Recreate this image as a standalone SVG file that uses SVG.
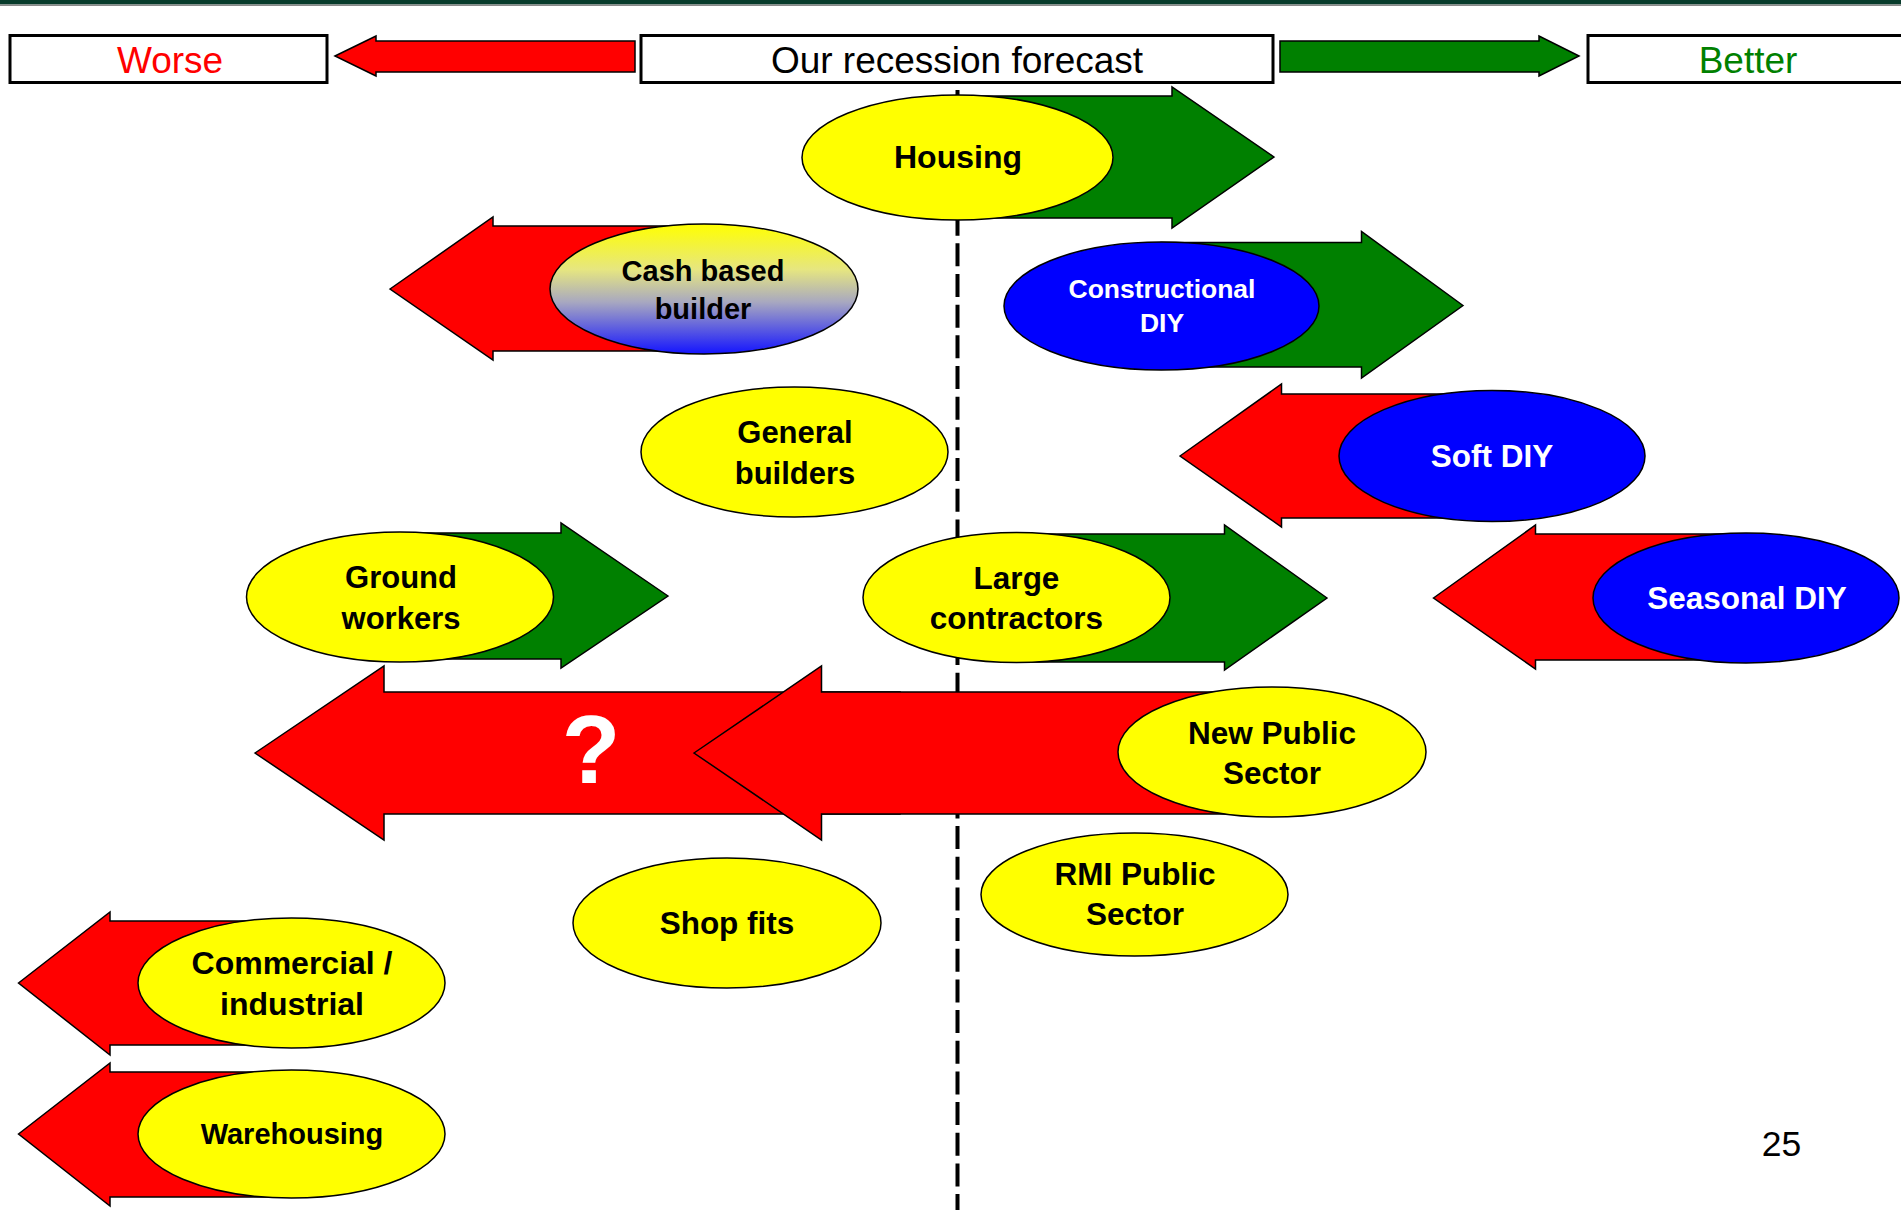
<svg xmlns="http://www.w3.org/2000/svg" width="1901" height="1210" viewBox="0 0 1901 1210">
<defs>
<linearGradient id="cashGrad" x1="0" y1="0" x2="0" y2="1">
<stop offset="0" stop-color="#ffff00"/>
<stop offset="0.35" stop-color="#e6e680"/>
<stop offset="0.6" stop-color="#a8a8c0"/>
<stop offset="1" stop-color="#1414ff"/>
</linearGradient>
</defs>
<style>
.box{fill:#ffffff;stroke:#000000;stroke-width:3}
.hdr{font-family:"Liberation Sans",Arial,sans-serif;font-size:37px;text-anchor:middle}
.red{fill:#ff0000;stroke:#000000;stroke-width:1.5;stroke-linejoin:miter}
.grn{fill:#008000;stroke:#000000;stroke-width:1.5;stroke-linejoin:miter}
.ey{fill:#ffff00;stroke:#000000;stroke-width:1.5}
.eb{fill:#0000ff;stroke:#000000;stroke-width:1.5}
.lbl{font-family:"Liberation Sans",Arial,sans-serif;font-weight:bold;font-size:31.5px;text-anchor:middle;fill:#000000}
.wht{fill:#ffffff}
</style>
<rect x="0" y="0" width="1901" height="1210" fill="#ffffff"/>
<rect x="0" y="0" width="1901" height="4.5" fill="#073b2b"/>
<rect x="0" y="4.5" width="1901" height="1.5" fill="#8a8a8a"/>

<g id="axis">
<line x1="957.5" y1="84" x2="957.5" y2="1212" stroke="#000000" stroke-width="4" stroke-dasharray="23 7.67" stroke-dashoffset="24.67"/>
</g>

<g id="connectors"></g>

<g id="header-worse">
<rect class="box" x="10" y="35.5" width="317" height="47"/>
<text class="hdr" x="170" y="73" fill="#ff0000">Worse</text>
</g>
<g id="header-worse-arrow">
<polygon class="red" points="335,56 376,36 376,41 635,41 635,72 376,72 376,76"/>
</g>
<g id="header-forecast">
<rect class="box" x="641" y="35.5" width="632" height="47"/>
<text class="hdr" x="957" y="73" fill="#000000">Our recession forecast</text>
</g>
<g id="header-better-arrow">
<polygon class="grn" points="1579,56 1539,36 1539,41 1280,41 1280,72 1539,72 1539,76"/>
</g>
<g id="header-better">
<rect class="box" x="1588" y="35.5" width="330" height="47"/>
<text class="hdr" x="1748" y="73" fill="#008000">Better</text>
</g>

<g id="node-housing">
<polygon class="grn" points="1274,157 1172,87 1172,96 957,96 957,218 1172,218 1172,228"/>
<ellipse class="ey" cx="957.5" cy="157.5" rx="155.5" ry="62.5"/>
<text class="lbl" x="958" y="168" style="font-size:32px">Housing</text>
</g>

<g id="node-cash-based-builder">
<polygon class="red" points="390,289 493,217 493,226 704,226 704,351 493,351 493,360"/>
<ellipse cx="704" cy="289" rx="154" ry="65" fill="url(#cashGrad)" stroke="#000000" stroke-width="1.5"/>
<text class="lbl" x="703" y="280.5" style="font-size:29px">Cash based</text>
<text class="lbl" x="703" y="318.5" style="font-size:29px">builder</text>
</g>

<g id="node-constructional-diy">
<polygon class="grn" points="1463,305.5 1361.5,231.5 1361.5,242.5 1161,242.5 1161,367 1361.5,367 1361.5,378"/>
<ellipse class="eb" cx="1161.5" cy="306" rx="157.5" ry="64"/>
<text class="lbl wht" x="1162" y="298" style="font-size:26.5px">Constructional</text>
<text class="lbl wht" x="1162" y="332" style="font-size:26.5px">DIY</text>
</g>

<g id="node-general-builders">
<ellipse class="ey" cx="794.5" cy="452" rx="153.5" ry="65"/>
<text class="lbl" x="795" y="443" style="font-size:31px">General</text>
<text class="lbl" x="795" y="483.5" style="font-size:31px">builders</text>
</g>

<g id="node-soft-diy">
<polygon class="red" points="1180,456 1281.5,384 1281.5,394 1492,394 1492,518 1281.5,518 1281.5,527"/>
<ellipse class="eb" cx="1492" cy="456" rx="153" ry="65.5"/>
<text class="lbl wht" x="1492" y="467">Soft DIY</text>
</g>

<g id="node-ground-workers">
<polygon class="grn" points="668,596 561,523 561,533 400,533 400,659 561,659 561,668"/>
<ellipse class="ey" cx="400" cy="597" rx="153.5" ry="65"/>
<text class="lbl" x="401" y="588" style="font-size:31px">Ground</text>
<text class="lbl" x="401" y="629" style="font-size:31px">workers</text>
</g>

<g id="node-large-contractors">
<polygon class="grn" points="1327,598 1224.5,525 1224.5,534 1016,534 1016,662 1224.5,662 1224.5,670"/>
<ellipse class="ey" cx="1016.5" cy="597.5" rx="153.5" ry="65"/>
<text class="lbl" x="1016.5" y="588.5">Large</text>
<text class="lbl" x="1016.5" y="629">contractors</text>
</g>

<g id="node-seasonal-diy">
<polygon class="red" points="1433.5,598 1535.5,525 1535.5,534 1746,534 1746,660 1535.5,660 1535.5,669"/>
<ellipse class="eb" cx="1746" cy="598" rx="153" ry="65"/>
<text class="lbl wht" x="1747" y="608.5">Seasonal DIY</text>
</g>

<g id="node-new-public-sector">
<polygon class="red" points="255,753 384,666 384,692 900,692 900,814 384,814 384,840"/>
<text class="lbl wht" x="591" y="783" style="font-size:96px">?</text>
<polygon class="red" points="694,753 821.5,666 821.5,692 1272,692 1272,814 821.5,814 821.5,840"/>
<ellipse class="ey" cx="1272" cy="752" rx="154" ry="65"/>
<text class="lbl" x="1272" y="744">New Public</text>
<text class="lbl" x="1272" y="784">Sector</text>
</g>

<g id="node-rmi-public-sector">
<ellipse class="ey" cx="1134.5" cy="894.5" rx="153.5" ry="61.5"/>
<text class="lbl" x="1135" y="885">RMI Public</text>
<text class="lbl" x="1135" y="925">Sector</text>
</g>

<g id="node-shop-fits">
<ellipse class="ey" cx="727" cy="923" rx="154" ry="65"/>
<text class="lbl" x="727" y="934">Shop fits</text>
</g>

<g id="node-commercial-industrial">
<polygon class="red" points="18.5,983 110,912 110,921 291,921 291,1045 110,1045 110,1055"/>
<ellipse class="ey" cx="291.5" cy="983" rx="153.5" ry="65"/>
<text class="lbl" x="292" y="974" style="font-size:32px">Commercial /</text>
<text class="lbl" x="292" y="1015" style="font-size:32px">industrial</text>
</g>

<g id="node-warehousing">
<polygon class="red" points="18.5,1134 110,1063 110,1072 291,1072 291,1197 110,1197 110,1206"/>
<ellipse class="ey" cx="291.5" cy="1134" rx="153.5" ry="64"/>
<text class="lbl" x="292" y="1144" style="font-size:29px">Warehousing</text>
</g>

<g id="page-number">
<text x="1781.5" y="1156" font-family="'Liberation Sans',Arial,sans-serif" font-size="35.5" text-anchor="middle" fill="#000000">25</text>
</g>
</svg>
